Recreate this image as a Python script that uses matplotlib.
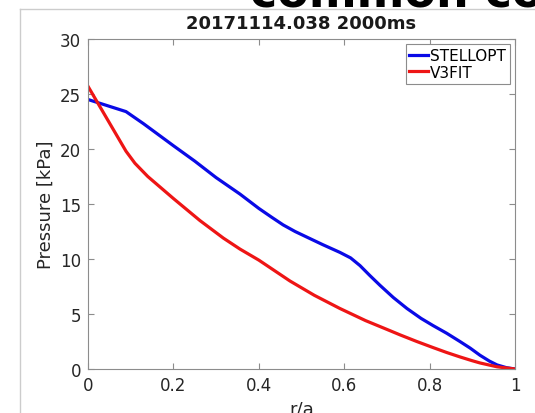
import numpy as np
import matplotlib
matplotlib.use("Agg")
import matplotlib.pyplot as plt
from matplotlib.lines import Line2D

# profile data
rStell = [0.0, 0.089, 0.13, 0.2, 0.25, 0.3, 0.356, 0.4, 0.43, 0.457, 0.485,
          0.512, 0.55, 0.59, 0.615, 0.637, 0.66, 0.684, 0.715, 0.747, 0.78,
          0.808, 0.84, 0.871, 0.895, 0.918, 0.94, 0.958, 0.98, 1.0]
pStell = [24.5, 23.4, 22.3, 20.3, 18.9, 17.4, 15.9, 14.6, 13.8, 13.1, 12.5,
          12.0, 11.3, 10.6, 10.1, 9.4, 8.5, 7.6, 6.5, 5.5, 4.6,
          3.95, 3.25, 2.5, 1.9, 1.25, 0.72, 0.37, 0.12, 0.0]
rV3 = [0.0, 0.089, 0.11, 0.14, 0.2, 0.262, 0.317, 0.356, 0.4, 0.473, 0.53,
       0.59, 0.65, 0.70, 0.731, 0.77, 0.808, 0.84, 0.871, 0.9, 0.918, 0.958,
       1.0]
pV3 = [25.7, 19.8, 18.7, 17.5, 15.5, 13.5, 11.9, 10.9, 9.9, 8.0, 6.7,
       5.5, 4.4, 3.6, 3.1, 2.5, 1.95, 1.5, 1.1, 0.75, 0.55, 0.2,
       0.0]
xTicks = [0, 0.2, 0.4, 0.6, 0.8, 1]
xTickLabels = ["0", "0.2", "0.4", "0.6", "0.8", "1"]
yTicks = [0, 5, 10, 15, 20, 25, 30]

plt.rcParams['font.family'] = ['DejaVu Sans']

fig = plt.figure(figsize=(5.35, 4.14), dpi=100)
ax = fig.add_axes([88/535, 44/414, 427/535, 330/414])

ax.plot(rStell, pStell, color='#0a0ae6', linewidth=2.3, label='STELLOPT',
        solid_joinstyle='round')
ax.plot(rV3, pV3, color='#ee1515', linewidth=2.3, label='V3FIT',
        solid_joinstyle='round')

ax.set_xlim(0, 1)
ax.set_ylim(0, 30)
ax.set_xticks(xTicks)
ax.set_xticklabels(xTickLabels)
ax.set_yticks(yTicks)

spineCol = '#8c8c8c'
for s in ax.spines.values():
    s.set_color(spineCol)
    s.set_linewidth(0.8)
ax.tick_params(direction='in', length=4, width=0.8, color=spineCol,
               top=True, right=True, labelsize=12, labelcolor='#262626',
               pad=5)

ax.set_title("20171114.038 2000ms", fontsize=13, fontweight='bold',
             color='#1a1a1a', pad=8)
ax.set_ylabel("Pressure [kPa]", fontsize=13, color='#262626', labelpad=4)
ax.set_xlabel("r/a", fontsize=13, color='#262626', labelpad=4)

leg = ax.legend(loc='upper right', fontsize=11, labelspacing=0.1,
                borderpad=0.25, handlelength=1.2, handletextpad=0.15,
                borderaxespad=0.35, fancybox=False, framealpha=1)
leg.get_frame().set_edgecolor(spineCol)
leg.get_frame().set_linewidth(0.8)

# slide frame and overlay text cut at the top
fig.add_artist(Line2D([20/535, 20/535], [0, 1 - 10/414], color='#cccccc',
                      linewidth=1))
fig.add_artist(Line2D([20/535, 1], [1 - 10/414, 1 - 10/414], color='#cccccc',
                      linewidth=1))
fig.text(250/535, 1 - 7/414, "common co", fontsize=33, fontweight='bold',
         va='baseline', ha='left', color='black')

fig.savefig("out.png", dpi=100)
